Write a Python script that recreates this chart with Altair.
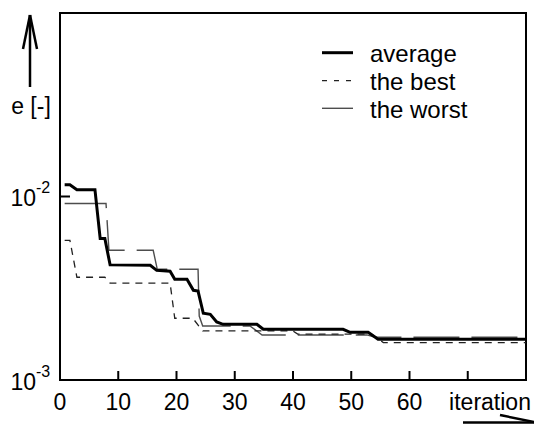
import altair as alt
import pandas as pd

# ---- data ----
avg_it = [0.8, 1.7, 2.9, 6.0, 6.9, 7.7, 8.6, 15.5, 16.6, 18.9, 19.7, 21.8, 22.9, 23.7,
          24.6, 25.8, 26.9, 28.0, 33.8, 34.9, 48.6, 49.8, 52.9, 54.6, 80.0]
avg_e = [0.0116, 0.0116, 0.0109, 0.0109, 0.0059, 0.0059, 0.00424, 0.00422, 0.00396, 0.00392,
         0.00354, 0.00354, 0.00308, 0.00305, 0.00231, 0.00228, 0.00207, 0.00201, 0.00201,
         0.00189, 0.00189, 0.00182, 0.00182, 0.00167, 0.00167]

best_it = [0.8, 1.7, 2.9, 7.7, 8.6, 18.9, 19.7, 22.8, 24.5, 40.0, 40.8, 53.5, 55.5, 80.0]
best_e = [0.00577, 0.00577, 0.00363, 0.00363, 0.00337, 0.00337, 0.00217, 0.00217, 0.00185,
          0.00185, 0.00178, 0.00178, 0.00160, 0.00160]

worst_it = [0.8, 7.9, 8.4, 16.0, 16.7, 23.7, 23.9, 24.5, 32.6, 34.7, 52.7, 54.1, 80.0]
worst_e = [0.00916, 0.00916, 0.00509, 0.00509, 0.00401, 0.00401, 0.00223, 0.00197, 0.00197,
           0.00176, 0.00176, 0.00171, 0.00171]

x_ticks = [0, 10, 20, 30, 40, 50, 60]
x_tick_marks = [10, 20, 30, 40, 50, 60, 70]
y_ticks = [0.001, 0.01]
y_base = ["10", "10"]
y_exp = ["-3", "-2"]
legend_names = ["average", "the best", "the worst"]
x_title = "iteration"
y_title = "e [-]"

W, H = 466, 367
FONT = "Liberation Sans"
xs = alt.Scale(domain=[0, 80], nice=False, zero=False)
ys = alt.Scale(type="log", domain=[0.001, 0.1], nice=False)


def X(f="it"):
    return alt.X(f"{f}:Q", scale=xs, axis=None)


def Y(f="e"):
    return alt.Y(f"{f}:Q", scale=ys, axis=None)


def series(it, e, **kw):
    df = pd.DataFrame({"it": it, "e": e})
    return alt.Chart(df).mark_line(**kw).encode(x=X(), y=Y())


worst = series(worst_it, worst_e, color="#4d4d4d", strokeWidth=1.4, strokeDash=[46, 12])
best = series(best_it, best_e, color="#222222", strokeWidth=1.3, strokeDash=[7, 6])
avg = series(avg_it, avg_e, color="black", strokeWidth=3)

# x ticks (inward) and labels
xt_df = pd.DataFrame({"it": x_tick_marks})
xticks = alt.Chart(xt_df).mark_rule(color="black", strokeWidth=2).encode(
    x=X(), y=alt.value(H), y2=alt.value(H - 9))
xl_df = pd.DataFrame({"it": x_ticks, "lab": [str(v) for v in x_ticks]})
xlabels = alt.Chart(xl_df).mark_text(font=FONT, fontSize=23, baseline="alphabetic",
                                     align="center", color="black").encode(
    x=X(), y=alt.value(H + 29.5), text="lab:N")

one = pd.DataFrame({"t": [x_title]})
xtitle = alt.Chart(one).mark_text(font=FONT, fontSize=23, baseline="alphabetic",
                                  align="center", color="black").encode(
    x=alt.value(430), y=alt.value(H + 29.5), text="t:N")

# y ticks and labels
yt_df = pd.DataFrame({"e": [y_ticks[1]]})
yticks = alt.Chart(yt_df).mark_rule(color="black", strokeWidth=2).encode(
    y=Y(), x=alt.value(0), x2=alt.value(10))
yl_df = pd.DataFrame({"e": y_ticks, "b": y_base, "p": y_exp})
ylab_base = alt.Chart(yl_df).mark_text(font=FONT, fontSize=23, baseline="alphabetic",
                                       align="right", dy=9.5, color="black").encode(
    y=Y(), x=alt.value(-24), text="b:N")
ylab_exp = alt.Chart(yl_df).mark_text(font=FONT, fontSize=16, baseline="alphabetic",
                                      align="left", dy=-3.5, color="black").encode(
    y=Y(), x=alt.value(-24), text="p:N")

ytitle = alt.Chart(pd.DataFrame({"t": [y_title]})).mark_text(
    font=FONT, fontSize=23, baseline="middle", align="center", color="black").encode(
    x=alt.value(-29), y=alt.value(94), text="t:N")

# arrows
d1 = pd.DataFrame({"a": [0]})


def seg(x1, y1, x2, y2, w=2):
    return alt.Chart(d1).mark_rule(color="black", strokeWidth=w).encode(
        x=alt.value(x1), y=alt.value(y1), x2=alt.value(x2), y2=alt.value(y2))


arrows = [
    seg(-30, 2, -30, 74, 2.5),
    seg(-30, 2, -37, 36, 2.5),
    seg(-30, 2, -23, 36, 2.5),
    seg(403, 409.5, 476, 409.5, 2.5),
    seg(440, 402, 476, 409.5, 2.5),
]

# manual legend
leg_y = [39.7, 67.7, 95.3]
leg_txt_y = [49, 77, 105]
leg_styles = [dict(color="black", strokeWidth=3),
              dict(color="#222222", strokeWidth=1.3, strokeDash=[5, 7]),
              dict(color="#4d4d4d", strokeWidth=1.4)]
legend = []
for i, name in enumerate(legend_names):
    legend.append(alt.Chart(d1).mark_rule(**leg_styles[i]).encode(
        x=alt.value(262), x2=alt.value(293), y=alt.value(leg_y[i])))
    legend.append(alt.Chart(pd.DataFrame({"t": [name]})).mark_text(
        font=FONT, fontSize=24, baseline="alphabetic", align="left", color="black").encode(
        x=alt.value(310), y=alt.value(leg_txt_y[i]), text="t:N"))

chart = alt.layer(
    worst, best, avg, xticks, xlabels, xtitle, yticks, ylab_base, ylab_exp, ytitle,
    *arrows, *legend
).properties(
    width=W, height=H,
    autosize=alt.AutoSizeParams(type="none"),
    padding={"left": 60, "top": 13, "right": 8, "bottom": 45},
    background="white",
).configure_view(stroke="black", strokeWidth=2)

chart.save("out.html", embed_options={"renderer": "svg", "actions": False})
